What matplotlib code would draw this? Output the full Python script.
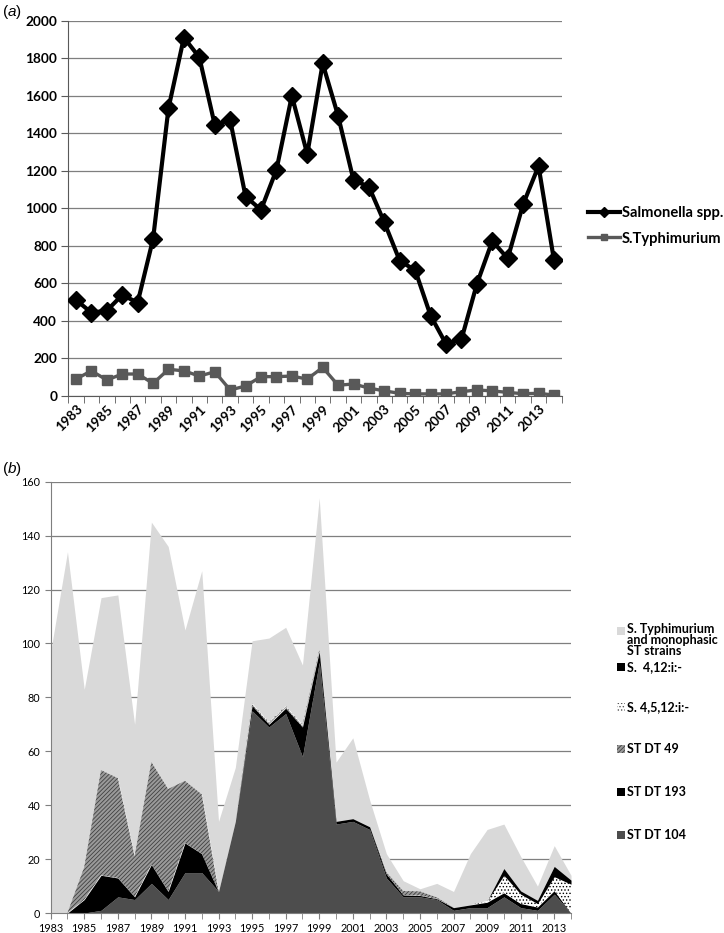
import matplotlib
matplotlib.use("Agg")
import matplotlib.pyplot as plt
from matplotlib.patches import Rectangle
import numpy as np

plt.rcParams['font.family'] = ['Lato', 'DejaVu Sans']
plt.rcParams['mathtext.fontset'] = 'custom'
plt.rcParams['mathtext.it'] = 'Liberation Sans:italic'
plt.rcParams['mathtext.rm'] = 'Liberation Sans'
plt.rcParams['hatch.linewidth'] = 0.6

# ---- data, panel (a)
years = list(range(1983, 2015))
salmonella = [512, 444, 455, 538, 498, 837, 1534, 1910, 1805, 1445, 1470, 1063,
              992, 1205, 1600, 1289, 1772, 1493, 1150, 1115, 925, 720, 670, 428,
              277, 302, 597, 826, 733, 1022, 1225, 724]
typhimurium = [90, 134, 85, 117, 117, 67, 142, 134, 106, 129, 32, 53,
               103, 103, 106, 90, 152, 57, 64, 42, 27, 14, 11, 11,
               11, 23, 32, 27, 19, 12, 14, 5]
year_labels_a = [str(y) for y in range(1983, 2014, 2)]

# ---- data, panel (b)  (stacked layers, bottom to top)
st_total = [97, 134, 83, 117, 118, 70, 145, 136, 105, 127, 34, 54,
            101, 102, 106, 92, 154, 56, 65, 42, 22, 12, 9, 11,
            8, 22, 31, 33, 21, 10, 25, 14]
dt104 = [0, 0, 0, 1, 6, 5, 11, 5, 15, 15, 8, 34,
         75, 69, 74, 58, 93, 33, 34, 31, 13, 6, 6, 5,
         1, 2, 2, 6, 2, 1, 7, 0]
dt193 = [0, 0, 5, 13, 7, 1, 7, 3, 11, 7, 0, 0,
         2, 1, 2, 11, 4, 1, 1, 1, 1.5, 0.7, 0.5, 0.3,
         1, 1, 2, 1.5, 1.5, 1.2, 1.3, 0]
dt49 = [0, 0, 12, 39, 37, 15, 38, 38, 23, 22, 0, 0,
        0.5, 0.5, 0.5, 0.5, 0.5, 0, 0, 0, 0.6, 1.5, 1.5, 0.5,
        0, 0, 0, 0, 0, 0, 0, 0]
s4512 = [0, 0, 0, 0, 0, 0, 0, 0, 0, 0, 0, 0,
         0.3, 0.3, 0.3, 0.3, 0, 0, 0, 0, 0, 0, 0, 0,
         0, 0, 0.5, 6.5, 3.5, 1.3, 5.2, 10.7]
s412 = [0, 0, 0, 0, 0, 0, 0, 0, 0, 0, 0, 0,
        0, 0, 0, 0, 0, 0, 0, 0, 0, 0, 0, 0,
        0, 0, 0, 2.5, 1.2, 1.2, 3.8, 1.5]
year_labels_b = [str(y) for y in range(1983, 2014, 2)]

fig = plt.figure(figsize=(7.24, 9.33), dpi=100)

# ================= panel (a)
ax1 = fig.add_axes([0.0943, 0.5756, 0.6815, 0.4022])
ax1.plot(years, salmonella, color="black", lw=3, marker="D", ms=9,
         label="Salmonella spp.", zorder=4)
ax1.plot(years, typhimurium, color="#595959", lw=2.4, marker="s", ms=7.5,
         label="S.Typhimurium", zorder=3)
ax1.set_xlim(1982.5, 2014.5)
ax1.set_ylim(0, 2000)
ax1.set_yticks(range(0, 2001, 200))
ax1.set_xticks(range(1983, 2014, 2))
ax1.set_xticklabels(year_labels_a, rotation=45, ha="right", rotation_mode="anchor",
                    fontweight="bold", fontsize=9.8)
ax1.set_xticks(np.arange(1982.5, 2015, 1), minor=True)
ax1.tick_params(axis="x", which="major", length=0, pad=5)
ax1.tick_params(axis="x", which="minor", length=5, color="#595959")
ax1.tick_params(axis="y", length=5, color="#595959", labelsize=9.8, pad=3)
for t in ax1.get_yticklabels():
    t.set_fontweight("bold")
ax1.grid(axis="y", color="#7f7f7f", lw=0.9)
ax1.set_axisbelow(True)
for s in ["top", "right"]:
    ax1.spines[s].set_visible(False)
ax1.spines["left"].set_color("#595959")
ax1.spines["bottom"].set_color("#595959")
fig.legend(loc="center left", bbox_to_anchor=(0.812, 1 - 226 / 933), frameon=False,
           prop={"weight": "bold", "size": 10.6}, handlelength=2.2, handletextpad=0.1,
           labelspacing=0.75, markerscale=0.6, borderaxespad=0, borderpad=0)
fig.text(0.003, 1 - 12 / 933, r"($\mathit{a}$)", fontsize=11, va="center",
         family="Liberation Sans")

# ================= panel (b)
ax2 = fig.add_axes([0.0700, 0.0214, 0.7187, 0.4623])
layers = [dt104, dt193, dt49, s4512, s412]
styles = [
    dict(facecolor="#4d4d4d", edgecolor="#4d4d4d", hatch=None),
    dict(facecolor="black", edgecolor="black", hatch=None),
    dict(facecolor="#9a9a9a", edgecolor="#404040", hatch="////////"),
    dict(facecolor="white", edgecolor="black", hatch="....."),
    dict(facecolor="black", edgecolor="black", hatch=None),
]
base = np.zeros(len(years))
for vals, st in zip(layers, styles):
    top = base + np.array(vals, dtype=float)
    ax2.fill_between(years, base, top, facecolor=st["facecolor"],
                     edgecolor=st["edgecolor"], hatch=st["hatch"], lw=0, zorder=3)
    base = top
ax2.fill_between(years, base, st_total, facecolor="#d9d9d9", edgecolor="#d9d9d9",
                 lw=0, zorder=2)

ax2.set_xlim(1983, 2014)
ax2.set_ylim(0, 160)
ax2.set_yticks(range(0, 161, 20))
ax2.set_xticks(range(1983, 2014, 2))
ax2.set_xticklabels(year_labels_b, fontsize=7.8)
ax2.set_xticks(range(1983, 2015), minor=True)
ax2.tick_params(axis="x", which="both", length=4, color="#7f7f7f", pad=3)
ax2.tick_params(axis="y", length=4, color="#7f7f7f", labelsize=7.8)
ax2.grid(axis="y", color="#7f7f7f", lw=0.9, zorder=1)
ax2.set_axisbelow(True)
for s in ["top", "right"]:
    ax2.spines[s].set_visible(False)
ax2.spines["left"].set_color("#7f7f7f")
ax2.spines["bottom"].set_color("#7f7f7f")
ax2.spines["left"].set_zorder(5)
ax2.spines["bottom"].set_zorder(5)
fig.text(0.003, 1 - 469 / 933, r"($\mathit{b}$)", fontsize=11, va="center",
         family="Liberation Sans")

# legend of panel (b), placed by hand like the original
legend_b = [
    ("S. Typhimurium\nand monophasic\nST strains", 631, dict(facecolor="#d9d9d9")),
    ("S.  4,12:i:-", 667, dict(facecolor="black")),
    ("S. 4,5,12:i:-", 707, dict(facecolor="white", hatch=".....", edgecolor="#555555")),
    ("ST DT 49", 749, dict(facecolor="#9a9a9a", hatch="////////", edgecolor="#404040")),
    ("ST DT 193", 792, dict(facecolor="black")),
    ("ST DT 104", 835, dict(facecolor="#4d4d4d")),
]
for i, (label, ypix, kw) in enumerate(legend_b):
    kw = dict(kw)
    kw.setdefault("edgecolor", kw["facecolor"])
    sq = Rectangle((617 / 724, 1 - (ypix + 4) / 933), 8 / 724, 8 / 933,
                   transform=fig.transFigure, lw=0, **kw)
    fig.add_artist(sq)
    if i == 0:
        fig.text(627 / 724, 1 - (ypix - 8) / 933, label, fontsize=9.0,
                 fontweight="bold", va="top", ha="left", linespacing=0.92)
    else:
        fig.text(627 / 724, 1 - ypix / 933, label, fontsize=9.0,
                 fontweight="bold", va="center", ha="left")

fig.savefig("out.png", dpi=100)
